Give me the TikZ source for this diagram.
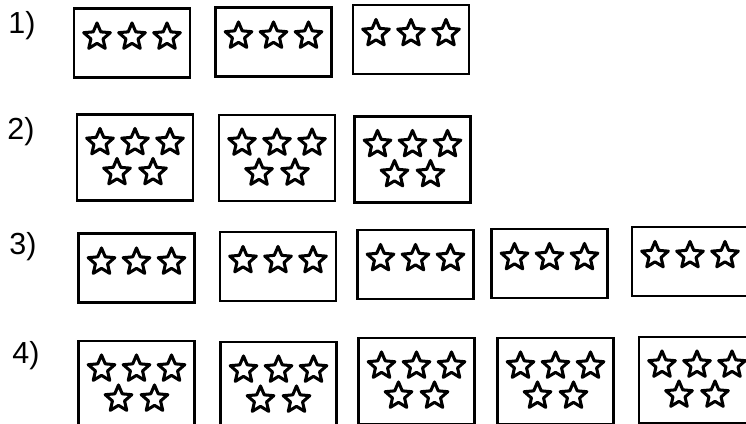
\documentclass[tikz,border=0pt]{standalone}
\usepackage{fontspec}
\setmainfont{Liberation Sans}
\usetikzlibrary{shapes.geometric,calc}

\tikzset{
  num/.style={font=\fontsize{26}{30}\selectfont, inner sep=0},
  card/.style={draw, line width=2pt, minimum width=3.48cm, minimum height=2.07cm, inner sep=0},
  tallcard/.style={card, minimum height=2.58cm},
  pip/.style={draw, star, star points=5, star point ratio=2.2, minimum size=0.84cm,
    line width=2.6pt, line join=round, inner sep=0}
}

\begin{document}
\begin{tikzpicture}[x=0.03cm,y=-0.03cm]
\useasboundingbox (0,0) rectangle (746,424);
\clip (0,0) rectangle (746,424);

\node[num] (n1) at (22,26) {1)};
\node[num] (n2) at (21,132) {2)};
\node[num] (n3) at (23,247) {3)};
\node[num] (n4) at (26,356) {4)};

% row 1
\node[card] (a1) at (132,43) {};
\node[card] (a2) at (273.5,42) {};
\node[card] (a3) at (411,39.5) {};

% row 2
\node[tallcard] (b1) at (135,157.5) {};
\node[tallcard] (b2) at (277,158) {};
\node[tallcard] (b3) at (412.5,159.5) {};

% row 3
\node[card] (c1) at (136.5,268) {};
\node[card] (c2) at (278,266.5) {};
\node[card] (c3) at (415.5,264.5) {};
\node[card] (c4) at (549.5,263.5) {};
\node[card] (c5) at (690,261.5) {};

% row 4
\node[tallcard] (d1) at (136.5,384) {};
\node[tallcard] (d2) at (278.5,385) {};
\node[tallcard] (d3) at (416.5,381) {};
\node[tallcard] (d4) at (555.5,381) {};
\node[tallcard] (d5) at (697,380) {};

% stars
\foreach \b in {a1,a2,a3,c1,c2,c3,c4,c5}
  \foreach \dx [count=\i] in {-35,0,35}
    \node[pip] (\b s\i) at ($(\b)+(\dx,-6)$) {};

\foreach \b in {b1,b2,b3,d1,d2,d3,d4,d5}{
  \foreach \dx [count=\i] in {-35,0,35}
    \node[pip] (\b s\i) at ($(\b)+(\dx,-15)$) {};
  \node[pip] (\b s4) at ($(\b)+(-18,15)$) {};
  \node[pip] (\b s5) at ($(\b)+(18,15)$) {};
}
\end{tikzpicture}
\end{document}
